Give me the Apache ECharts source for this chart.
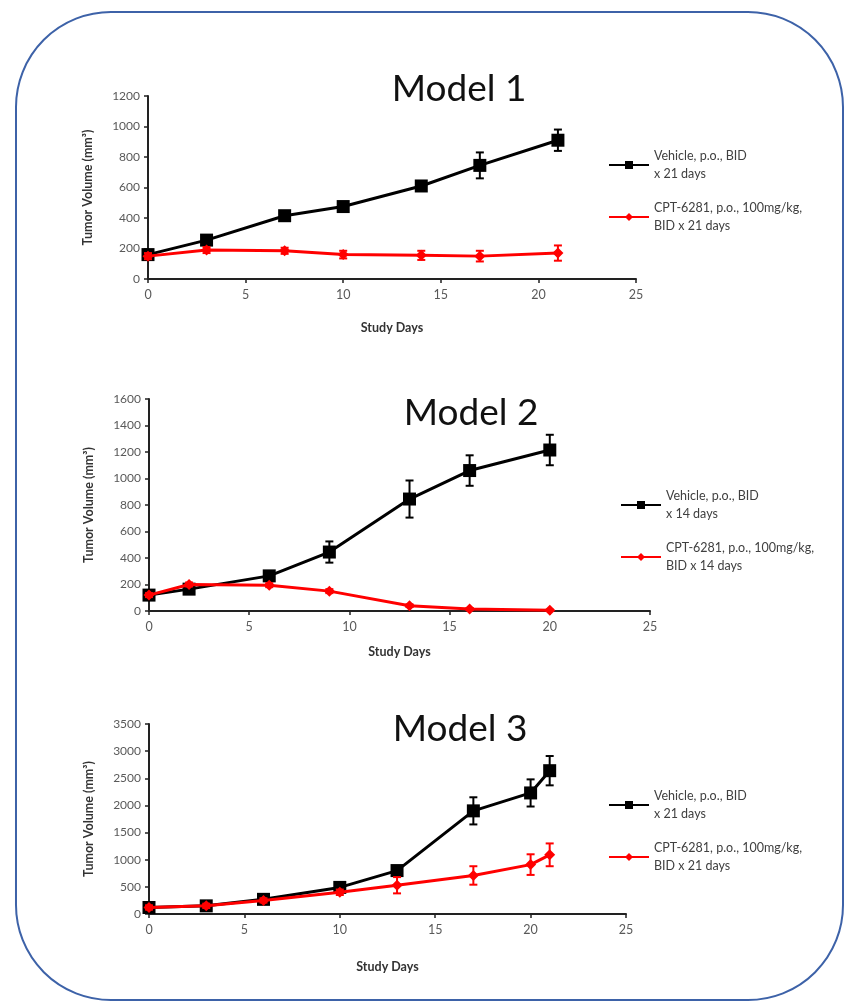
<!DOCTYPE html>
<html><head><meta charset="utf-8">
<script src="https://cdn.jsdelivr.net/npm/echarts@6/dist/echarts.min.js"></script>
<style>html,body{margin:0;padding:0;background:#fff}#c{width:849px;height:1006px}</style>
</head><body><div id="c"></div>
<script>
// ---- data ----
const titles = ['Model 1', 'Model 2', 'Model 3'];
const yAxisName = 'Tumor Volume (mm\u00B3)';
const xAxisName = 'Study Days';
const vehNames = ['Vehicle, p.o., BID\nx 21 days', 'Vehicle, p.o., BID\nx 14 days', 'Vehicle, p.o., BID\nx 21 days'];
const cptNames = ['CPT-6281, p.o., 100mg/kg,\nBID x 21 days', 'CPT-6281, p.o., 100mg/kg,\nBID x 14 days', 'CPT-6281, p.o., 100mg/kg,\nBID x 21 days'];

const days1 = [0, 3, 7, 10, 14, 17, 21];
const veh1 = [160, 255, 415, 475, 610, 745, 910];
const veh1Err = [20, 20, 20, 20, 25, 85, 70];
const cpt1 = [150, 190, 185, 160, 155, 150, 170];
const cpt1Err = [20, 20, 20, 25, 30, 35, 50];

const days2 = [0, 2, 6, 9, 13, 16, 20];
const veh2 = [120, 165, 265, 445, 845, 1060, 1215];
const veh2Err = [20, 20, 20, 80, 140, 115, 115];
const cpt2 = [120, 200, 195, 150, 40, 15, 5];
const cpt2Err = [15, 15, 15, 15, 10, 8, 5];

const days3 = [0, 3, 6, 10, 13, 17, 20, 21];
const veh3 = [120, 150, 270, 490, 800, 1900, 2230, 2640];
const veh3Err = [40, 40, 40, 50, 60, 250, 250, 270];
const cpt3 = [120, 150, 250, 400, 530, 710, 910, 1090];
const cpt3Err = [40, 40, 40, 50, 150, 170, 190, 210];

const yMax = [1200, 1600, 3500];
const yStep = [200, 200, 500];
const xMax = 25, xStep = 5;

// ---- layout ----
const FONT = 'Lato, "Open Sans", sans-serif';
const grids = [
  {left: 148, top: 96, width: 488, height: 183},
  {left: 149, top: 399, width: 501, height: 212},
  {left: 149, top: 724, width: 477, height: 190}
];
const titlePos = [{x: 454, y: 66}, {x: 466, y: 390}, {x: 455, y: 706}];
const legendPos = [{left: 603, top: 142}, {left: 615, top: 482}, {left: 603, top: 782}];
const xNameGap = [42, 34, 46];

const sets = [
  {days: days1, veh: veh1, vehErr: veh1Err, cpt: cpt1, cptErr: cpt1Err},
  {days: days2, veh: veh2, vehErr: veh2Err, cpt: cpt2, cptErr: cpt2Err},
  {days: days3, veh: veh3, vehErr: veh3Err, cpt: cpt3, cptErr: cpt3Err}
];

function errRender(color) {
  return function (params, api) {
    const x = api.value(0), lo = api.value(1), hi = api.value(2);
    const a = api.coord([x, lo]), b = api.coord([x, hi]);
    const w = 4;
    const st = {stroke: color, lineWidth: 2};
    return {type: 'group', children: [
      {type: 'line', shape: {x1: a[0], y1: a[1], x2: b[0], y2: b[1]}, style: st},
      {type: 'line', shape: {x1: a[0] - w, y1: a[1], x2: a[0] + w, y2: a[1]}, style: st},
      {type: 'line', shape: {x1: b[0] - w, y1: b[1], x2: b[0] + w, y2: b[1]}, style: st}
    ]};
  };
}

const option = {
  animation: false,
  backgroundColor: '#fff',
  title: titles.map((t, i) => ({
    text: t, left: titlePos[i].x, top: titlePos[i].y, textAlign: 'center',
    textStyle: {fontFamily: FONT, fontSize: 37, fontWeight: 'normal', color: '#111'}
  })),
  legend: sets.map((s, i) => ({
    orient: 'vertical', left: legendPos[i].left, top: legendPos[i].top,
    itemWidth: 40, itemHeight: 10, itemGap: 16,
    data: [vehNames[i], cptNames[i]],
    textStyle: {fontFamily: FONT, fontSize: 12.5, color: '#404040', lineHeight: 18}
  })),
  grid: grids.map(g => Object.assign({containLabel: false}, g)),
  xAxis: grids.map((g, i) => ({
    type: 'value', gridIndex: i, min: 0, max: xMax, interval: xStep,
    name: xAxisName, nameLocation: 'middle', nameGap: xNameGap[i],
    nameTextStyle: {fontFamily: FONT, fontSize: 12.5, fontWeight: 'bold', color: '#333'},
    axisLine: {lineStyle: {color: '#222', width: 2}},
    axisTick: {show: true, length: 4, lineStyle: {color: '#222', width: 1.5}},
    axisLabel: {fontFamily: FONT, fontSize: 12.5, color: '#595959', margin: 9, formatter: v => String(v)},
    splitLine: {show: false}
  })),
  yAxis: grids.map((g, i) => ({
    type: 'value', gridIndex: i, min: 0, max: yMax[i], interval: yStep[i],
    name: yAxisName, nameLocation: 'middle', nameGap: 54, nameRotate: 90,
    nameTextStyle: {fontFamily: FONT, fontSize: 12.5, fontWeight: 'bold', color: '#333'},
    axisLine: {show: true, lineStyle: {color: '#222', width: 2}},
    axisTick: {show: true, length: 4, lineStyle: {color: '#222', width: 1.5}},
    axisLabel: {fontFamily: FONT, fontSize: 12, color: '#595959', margin: 8, formatter: v => String(v)},
    splitLine: {show: false}
  })),
  graphic: [{
    type: 'rect', z: -10, silent: true,
    shape: {x: 16, y: 12, width: 827, height: 988, r: 95},
    style: {fill: 'none', stroke: '#3d62a8', lineWidth: 2}
  }],
  series: []
};

sets.forEach((s, i) => {
  option.series.push({
    type: 'custom', xAxisIndex: i, yAxisIndex: i, renderItem: errRender('#000'),
    encode: {x: 0, y: [1, 2]}, z: 3,
    data: s.days.map((d, k) => [d, s.veh[k] - s.vehErr[k], s.veh[k] + s.vehErr[k]])
  });
  option.series.push({
    type: 'custom', xAxisIndex: i, yAxisIndex: i, renderItem: errRender('#ff0000'),
    encode: {x: 0, y: [1, 2]}, z: 4,
    data: s.days.map((d, k) => [d, s.cpt[k] - s.cptErr[k], s.cpt[k] + s.cptErr[k]])
  });
  option.series.push({
    name: vehNames[i], type: 'line', xAxisIndex: i, yAxisIndex: i, z: 2,
    data: s.days.map((d, k) => [d, s.veh[k]]),
    symbol: 'rect', symbolSize: 13,
    lineStyle: {color: '#000', width: 3}, itemStyle: {color: '#000'}, color: '#000'
  });
  option.series.push({
    name: cptNames[i], type: 'line', xAxisIndex: i, yAxisIndex: i, z: 5,
    data: s.days.map((d, k) => [d, s.cpt[k]]),
    symbol: 'diamond', symbolSize: 11,
    lineStyle: {color: '#ff0000', width: 3}, itemStyle: {color: '#ff0000'}, color: '#ff0000'
  });
});

const chart = echarts.init(document.getElementById('c'), null, {renderer: 'canvas'});
chart.setOption(option);
</script></body></html>
